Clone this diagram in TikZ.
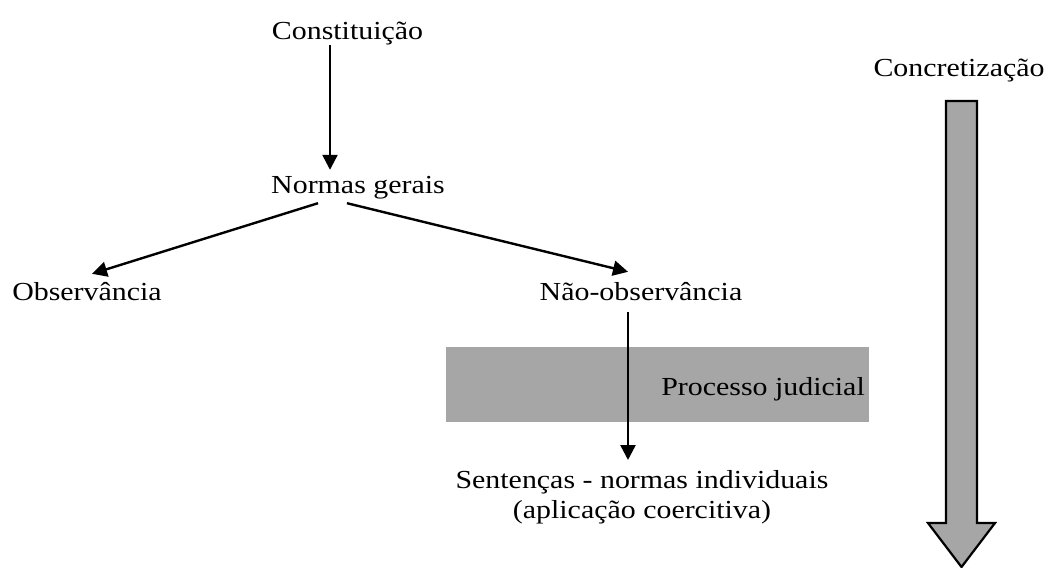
\documentclass[tikz,border=0pt]{standalone}
\usepackage{fontspec}
\setmainfont{Liberation Serif}[FakeStretch=1.15]
\usetikzlibrary{arrows.meta}
\definecolor{boxgray}{HTML}{A6A6A6}
\tikzset{
  lbl/.style={inner sep=0pt, text height=20pt, text depth=6pt, font=\fontsize{26}{29}\selectfont},
  arr/.style={line width=2.4pt, -{Triangle[length=15pt,width=15pt]}},
}
\begin{document}
\begin{tikzpicture}[x=1pt,y=-1pt]
\useasboundingbox (0,0) rectangle (1053,568);
% gray band
\fill[boxgray] (446,347) rectangle (869,422);
% big arrow
\draw[fill=boxgray, line width=2.2pt, line join=miter]
  (946,101) -- (977,101) -- (977,523) -- (995,523) -- (961.5,567) -- (928,523) -- (946,523) -- cycle;
% nodes
\node[lbl, anchor=base] (const) at (347.5,39) {Constituição};
\node[lbl, anchor=base] (normas) at (358,193) {Normas gerais};
\node[lbl, anchor=base] (obs) at (87,300) {Observância};
\node[lbl, anchor=base] (nobs) at (641,300) {Não-observância};
\node[lbl, anchor=base east] (proc) at (865,395) {Processo judicial};
\node[inner sep=0pt, align=center, anchor=north, font=\fontsize{26}{30}\selectfont] (sent) at (642,470) {Sentenças - normas individuais\\(aplicação coercitiva)};
\node[lbl, anchor=base] (concr) at (959,76) {Concretização};
% connectors
\draw[arr] ([xshift=-17.5pt]const.south) -- ([xshift=-28pt,yshift=3pt]normas.north);
\draw[arr] ([xshift=-40pt,yshift=-4pt]normas.south) -- ([xshift=5pt,yshift=6pt]obs.north);
\draw[arr] ([xshift=-11pt,yshift=-4pt]normas.south) -- ([xshift=-13pt,yshift=8pt]nobs.north);
\draw[arr] ([xshift=-13pt,yshift=-6pt]nobs.south) -- ([xshift=-14pt,yshift=10pt]sent.north);
\end{tikzpicture}
\end{document}
